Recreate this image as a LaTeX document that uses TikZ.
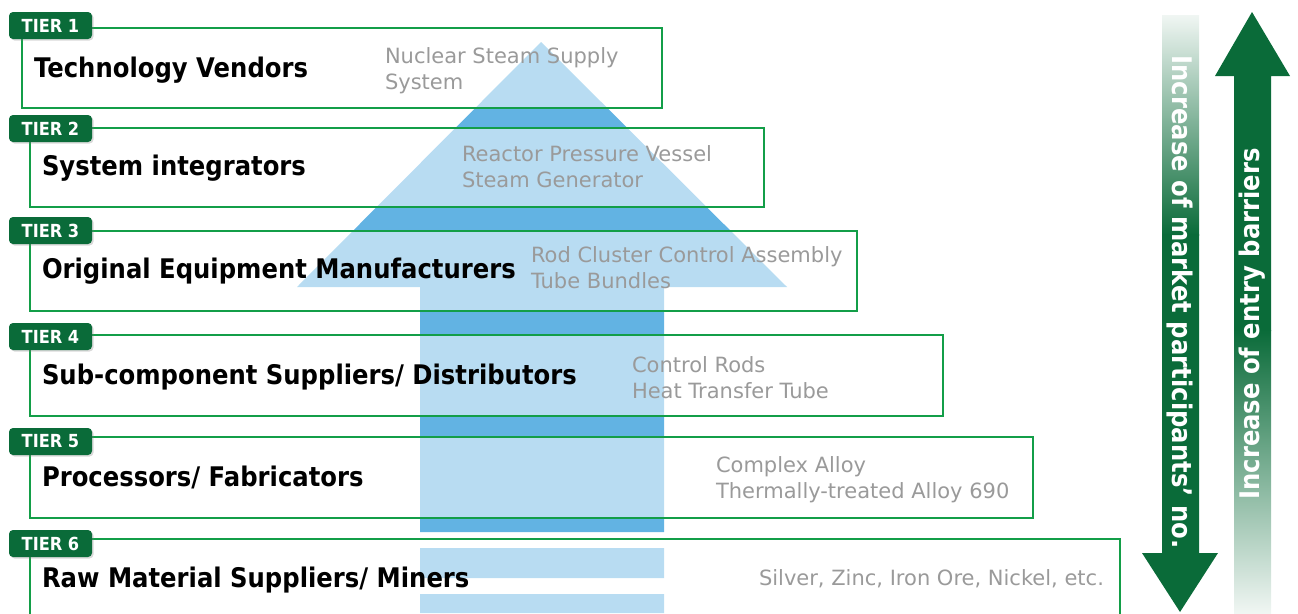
\documentclass[tikz,border=0pt]{standalone}
\usepackage{fontspec}
\setmainfont{DejaVu Sans}
\newfontfamily\tahomalike[FakeStretch=0.9]{DejaVu Sans}
\usetikzlibrary{positioning,shadows}
\definecolor{tiergreen}{HTML}{0A6B39}
\definecolor{framegreen}{HTML}{139E48}
\definecolor{flowblue}{HTML}{62B3E3}
\definecolor{itemgray}{HTML}{9A9A9A}

\begin{document}
\begin{tikzpicture}[x=1pt, y=-1pt, inner sep=0pt, outer sep=0pt,
   tierbox/.style={draw=framegreen, line width=1.9pt, fill=white, fill opacity=0.55,
     anchor=north west, minimum height=80pt},
   tiertab/.style={fill=tiergreen, rounded corners=4pt, minimum width=83pt, minimum height=27pt,
     text=white, font=\tahomalike\bfseries\fontsize{18}{20}\selectfont,
     drop shadow={shadow xshift=1.5pt, shadow yshift=-1.5pt, opacity=0.3}},
   tiername/.style={anchor=base west, font=\tahomalike\bfseries\fontsize{27}{30}\selectfont},
   items/.style={anchor=base west, align=left, text=itemgray, font=\fontsize{21}{26}\selectfont},
   sidetext/.style={text=white, font=\tahomalike\bfseries\fontsize{27}{30}\selectfont}
   ]
   \useasboundingbox (0,0) rectangle (1298,613);

   % big supply chain arrow
   \fill[flowblue] (541,42) -- (787,287) -- (664,287) -- (664,532) -- (420,532)
     -- (420,287) -- (297,287) -- cycle;
   \fill[flowblue] (420,548) rectangle (664,578) (420,594) rectangle (664,613);

   % tiers
   \node[tierbox, minimum width=640pt] (vendors) at (22,28) {};
   \node[tierbox, minimum width=734pt, minimum height=79pt] (integrators) at (30,128) {};
   \node[tierbox, minimum width=827pt] (oem) at (30,231) {};
   \node[tierbox, minimum width=913pt, minimum height=81pt] (subsuppliers) at (30,335) {};
   \node[tierbox, minimum width=1003pt, minimum height=81pt] (fabricators) at (30,437) {};
   \node[tierbox, minimum width=1090pt, minimum height=100pt] (miners) at (30,539) {};

   \node[tiertab] (tab1) at (50.5,25.5) {TIER 1};
   \node[tiertab] (tab2) at (50.5,128.5) {TIER 2};
   \node[tiertab] (tab3) at (50.5,230.5) {TIER 3};
   \node[tiertab] (tab4) at (50.5,336.5) {TIER 4};
   \node[tiertab] (tab5) at (50.5,441.5) {TIER 5};
   \node[tiertab] (tab6) at (50.5,543.5) {TIER 6};

   \node[tiername] (name1) at (34,77) {Technology Vendors};
   \node[tiername] (name2) at (42,175) {System integrators};
   \node[tiername] (name3) at (42,278) {Original Equipment Manufacturers};
   \node[tiername] (name4) at (42,384) {Sub-component Suppliers/ Distributors};
   \node[tiername] (name5) at (42,486) {Processors/ Fabricators};
   \node[tiername] (name6) at (42,587) {Raw Material Suppliers/ Miners};

   % base of a two-line node sits on its last line
   \node[items] (items1) at (385,89) {Nuclear Steam Supply\\System};
   \node[items] (items2) at (462,187) {Reactor Pressure Vessel\\Steam Generator};
   \node[items] (items3) at (531,288) {Rod Cluster Control Assembly\\Tube Bundles};
   \node[items] (items4) at (632,398) {Control Rods\\Heat Transfer Tube};
   \node[items] (items5) at (716,498) {Complex Alloy\\Thermally-treated Alloy 690};
   \node[items] (items6) at (759,585) {Silver, Zinc, Iron Ore, Nickel, etc.};

   % participants arrow (down)
   \shade[top color=tiergreen!6, bottom color=tiergreen] (1162,15) rectangle (1199,235);
   \fill[tiergreen] (1162,234) -- (1199,234) -- (1199,553) -- (1218,553) -- (1180,612)
     -- (1142,553) -- (1162,553) -- cycle;
   % barriers arrow (up)
   \fill[tiergreen] (1252,12) -- (1290,76) -- (1271,76) -- (1271,331) -- (1234,331)
     -- (1234,76) -- (1215,76) -- cycle;
   \shade[top color=tiergreen, bottom color=tiergreen!6] (1234,330) rectangle (1271,613);

   \node[sidetext, rotate=-90] (participants) at (1180,302) {Increase of market participants’ no.};
   \node[sidetext, rotate=90] (barriers) at (1252,324) {Increase of entry barriers};
\end{tikzpicture}
\end{document}
